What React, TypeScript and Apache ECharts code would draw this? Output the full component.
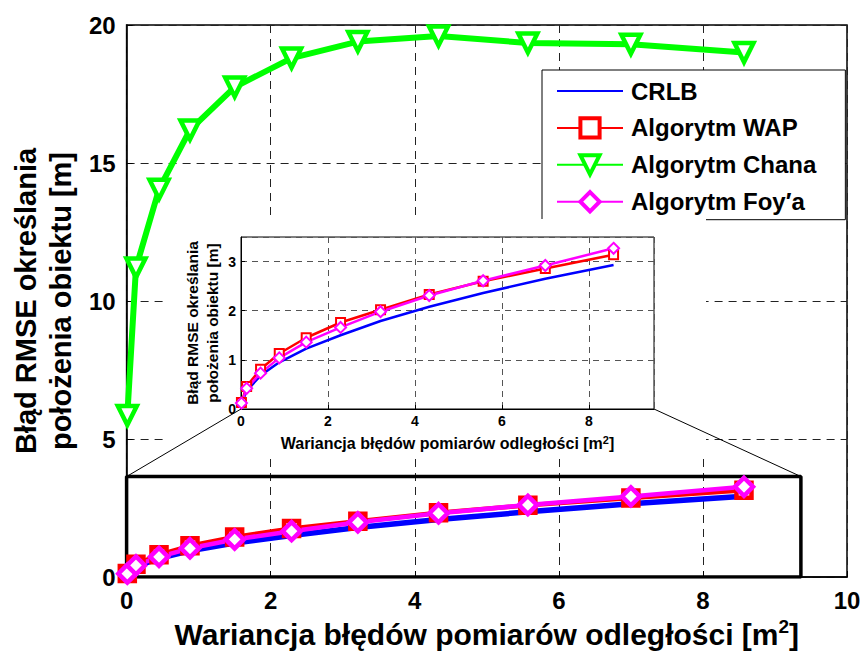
import React, { useEffect, useRef } from 'react';
import * as echarts from 'echarts';

// ---- data ----
const xVals = [0.01, 0.13, 0.45, 0.88, 1.5, 2.29, 3.21, 4.33, 5.57, 7.0, 8.57];
const crlb = [0.1, 0.37, 0.68, 0.95, 1.23, 1.5, 1.79, 2.08, 2.36, 2.65, 2.93];
const wap = [0.13, 0.46, 0.81, 1.13, 1.45, 1.76, 2.02, 2.33, 2.6, 2.86, 3.14];
const chana = [5.85, 11.2, 14.05, 16.2, 17.75, 18.8, 19.4, 19.6, 19.35, 19.3, 19.0];
const foy = [0.12, 0.42, 0.73, 1.04, 1.36, 1.66, 1.98, 2.31, 2.61, 2.92, 3.27];

const seriesNames = ['CRLB', 'Algorytm WAP', 'Algorytm Chana', 'Algorytm Foy′a'];
const mainXTicks = { min: 0, max: 10, interval: 2 };
const mainYTicks = { min: 0, max: 20, interval: 5 };
const insetXTicks = { min: 0, max: 9.5, interval: 2 };
const insetYTicks = { min: 0, max: 3.5, interval: 1 };
const zoomBoxX = [0, 9.36];
const zoomBoxY = [0, 3.64];

const yTitle = 'Błąd RMSE określania\npołożenia obiektu [m]';
const xTitleMain = 'Wariancja błędów pomiarów odległości [m';

const FONT = '"Liberation Sans", Arial, Helvetica, sans-serif';

const zip = (ys: number[]) => xVals.map((x, i) => [x, ys[i]]);

function buildOption() {
  const blue = '#0000ff';
  const red = '#ff0000';
  const green = '#00ff00';
  const magenta = '#ff00ff';

  const mkSeries = (inset: boolean) => {
    const idx = inset ? 1 : 0;
    const z = inset ? 7 : 2;
    const lw = inset ? 2.5 : 4.5;
    const ms = inset ? 9 : 15;
    const bw = inset ? 2 : 4.5;
    return [
      {
        name: seriesNames[0], type: 'line', xAxisIndex: idx, yAxisIndex: idx, z,
        data: zip(crlb), symbol: 'none', lineStyle: { color: blue, width: inset ? 2.5 : 5.5 },
        itemStyle: { color: blue },
      },
      {
        name: seriesNames[1], type: 'line', xAxisIndex: idx, yAxisIndex: idx, z,
        data: zip(wap), symbol: 'rect', symbolSize: ms,
        lineStyle: { color: red, width: lw }, itemStyle: { color: '#fff', borderColor: red, borderWidth: bw },
      },
      ...(inset ? [] : [{
        name: seriesNames[2], type: 'line', xAxisIndex: idx, yAxisIndex: idx, z,
        data: zip(chana), symbol: 'triangle', symbolRotate: 180, symbolSize: 19,
        lineStyle: { color: green, width: 6 }, itemStyle: { color: '#fff', borderColor: green, borderWidth: 4.5 },
      }]),
      {
        name: seriesNames[3], type: 'line', xAxisIndex: idx, yAxisIndex: idx, z,
        data: zip(foy), symbol: 'diamond', symbolSize: inset ? 11 : 18,
        lineStyle: { color: magenta, width: lw }, itemStyle: { color: '#fff', borderColor: magenta, borderWidth: bw },
      },
    ];
  };

  const mainSplit = { show: true, lineStyle: { color: '#222', type: [8, 6], width: 1 } };
  const insetSplit = { show: true, lineStyle: { color: '#555', type: [6, 5], width: 1 } };

  return {
    animation: false,
    backgroundColor: '#fff',
    textStyle: { fontFamily: FONT },
    grid: [
      { left: 124, right: 17, top: 25, bottom: 79, show: true, borderColor: '#000', borderWidth: 1.5, z: 0 },
      { left: 241, right: 210, top: 237, bottom: 250, show: true, backgroundColor: '#fff', borderColor: '#000', borderWidth: 1, z: 6 },
    ],
    legend: {
      data: [
        { name: seriesNames[0], itemStyle: { opacity: 0 } },
        seriesNames[1],
        seriesNames[2],
        seriesNames[3],
      ],
      orient: 'vertical',
      left: 542,
      top: 70,
      padding: [9, 29, 6, 14],
      itemWidth: 66,
      itemHeight: 24,
      itemGap: 12.9,
      backgroundColor: '#fff',
      borderColor: '#000',
      borderWidth: 1,
      borderRadius: 0,
      z: 4,
      itemStyle: { borderWidth: 4 },
      textStyle: { fontSize: 24, fontWeight: 'bold', color: '#000', fontFamily: FONT, lineHeight: 24, padding: [0, 0, 0, 3] },
    },
    xAxis: [
      {
        type: 'value', gridIndex: 0, ...mainXTicks, z: 0,
        axisLine: { show: true, onZero: false, lineStyle: { color: '#000', width: 1.5 } },
        axisTick: { show: true, inside: true, length: 6, lineStyle: { color: '#000' } },
        axisLabel: { fontSize: 24, fontWeight: 'bold', color: '#000', margin: 11, fontFamily: FONT },
        splitLine: mainSplit,
        name: `{t|${xTitleMain}}{s|2}{t|]}`,
        nameLocation: 'middle',
        nameGap: 40,
        nameTextStyle: {
          rich: {
            t: { fontSize: 30, fontWeight: 'bold', color: '#000', fontFamily: FONT, lineHeight: 34 },
            s: { fontSize: 19, fontWeight: 'bold', color: '#000', fontFamily: FONT, verticalAlign: 'top', lineHeight: 34, padding: [0, 0, 18, 0] },
          },
        },
      },
      {
        type: 'value', gridIndex: 1, ...insetXTicks, z: 6,
        axisLine: { show: true, onZero: false, lineStyle: { color: '#000', width: 1 } },
        axisTick: { show: true, inside: true, length: 4, lineStyle: { color: '#000' } },
        axisLabel: { fontSize: 14, fontWeight: 'bold', color: '#000', margin: 5, showMaxLabel: false, fontFamily: FONT },
        splitLine: insetSplit,
        name: `{t|${xTitleMain}}{s|2}{t|]}`,
        nameLocation: 'middle',
        nameGap: 25,
        nameTextStyle: {
          rich: {
            t: { fontSize: 16, fontWeight: 'bold', color: '#000', fontFamily: FONT, lineHeight: 18 },
            s: { fontSize: 11, fontWeight: 'bold', color: '#000', fontFamily: FONT, verticalAlign: 'top', lineHeight: 18, padding: [0, 0, 9, 0] },
          },
        },
      },
    ],
    yAxis: [
      {
        type: 'value', gridIndex: 0, ...mainYTicks, z: 0,
        axisLine: { show: true, onZero: false, lineStyle: { color: '#000', width: 1.5 } },
        axisTick: { show: true, inside: true, length: 6, lineStyle: { color: '#000' } },
        axisLabel: { fontSize: 24, fontWeight: 'bold', color: '#000', margin: 11, fontFamily: FONT },
        splitLine: mainSplit,
        name: yTitle,
        nameLocation: 'middle',
        nameGap: 44,
        nameTextStyle: { fontSize: 29, fontWeight: 'bold', color: '#000', fontFamily: FONT, lineHeight: 35 },
      },
      {
        type: 'value', gridIndex: 1, ...insetYTicks, z: 6,
        axisLine: { show: true, onZero: false, lineStyle: { color: '#000', width: 1 } },
        axisTick: { show: true, inside: true, length: 4, lineStyle: { color: '#000' } },
        axisLabel: { fontSize: 14, fontWeight: 'bold', color: '#000', margin: 5, showMaxLabel: false, fontFamily: FONT },
        splitLine: insetSplit,
        name: yTitle,
        nameLocation: 'middle',
        nameGap: 19,
        nameTextStyle: { fontSize: 15.5, fontWeight: 'bold', color: '#000', fontFamily: FONT, lineHeight: 20 },
      },
    ],
    series: [
      {
        name: 'zoomBox', type: 'line', xAxisIndex: 0, yAxisIndex: 0, z: 1, symbol: 'none',
        data: [
          [zoomBoxX[0], zoomBoxY[0]], [zoomBoxX[1], zoomBoxY[0]], [zoomBoxX[1], zoomBoxY[1]],
          [zoomBoxX[0], zoomBoxY[1]], [zoomBoxX[0], zoomBoxY[0]],
        ],
        lineStyle: { color: '#000', width: 3.5 },
        silent: true,
      },
      ...mkSeries(false),
      ...mkSeries(true),
    ],
  };
}

export default function App() {
  const ref = useRef<HTMLDivElement>(null);
  useEffect(() => {
    if (!ref.current) return;
    const chart = echarts.init(ref.current, null, { renderer: 'svg' });
    chart.setOption(buildOption() as any);
    const a = chart.convertToPixel({ gridIndex: 0 } as any, [zoomBoxX[0], zoomBoxY[1]]) as number[];
    const b = chart.convertToPixel({ gridIndex: 1 } as any, [insetXTicks.min, insetYTicks.min]) as number[];
    const c = chart.convertToPixel({ gridIndex: 0 } as any, [zoomBoxX[1], zoomBoxY[1]]) as number[];
    const d = chart.convertToPixel({ gridIndex: 1 } as any, [insetXTicks.max, insetYTicks.min]) as number[];
    chart.setOption({
      graphic: {
        elements: [
          {
            type: 'rect', z: 5, silent: true,
            shape: { x: 165, y: 219, width: 541, height: 237 },
            style: { fill: '#fff' },
          },
          {
            type: 'line', z: 8, silent: true,
            shape: { x1: a[0], y1: a[1], x2: b[0], y2: b[1] },
            style: { stroke: '#000', lineWidth: 1 },
          },
          {
            type: 'line', z: 8, silent: true,
            shape: { x1: c[0], y1: c[1], x2: d[0], y2: d[1] },
            style: { stroke: '#000', lineWidth: 1 },
          },
        ],
      },
    } as any);
    return () => chart.dispose();
  }, []);
  return <div ref={ref} style={{ position: 'fixed', left: 0, top: 0, width: 864, height: 659 }} />;
}
